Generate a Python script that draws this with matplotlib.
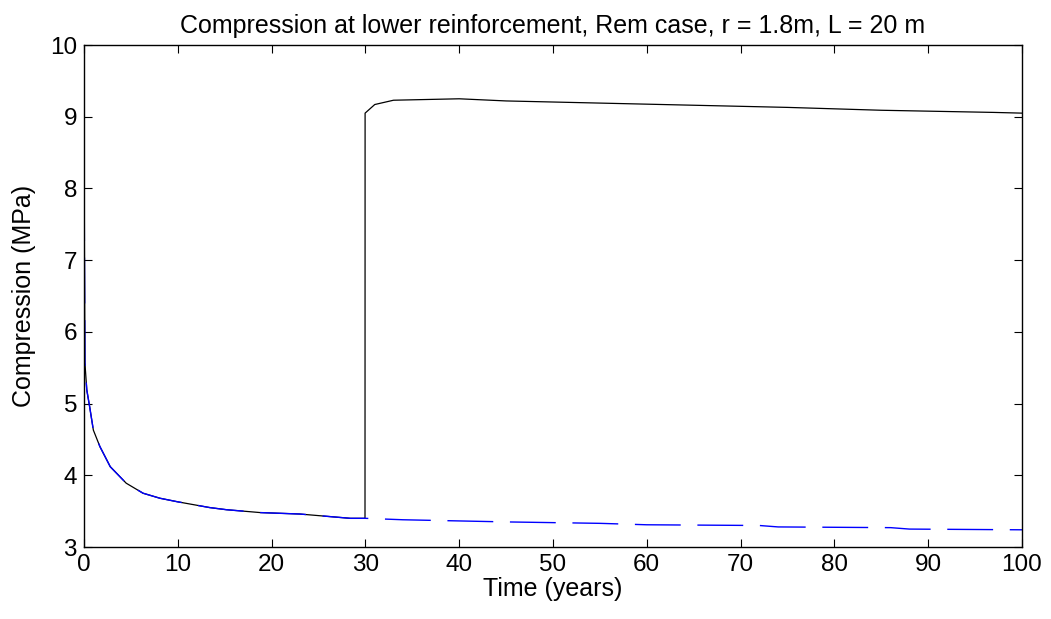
import matplotlib
matplotlib.use("Agg")
import matplotlib.pyplot as plt

plt.rcParams['font.family'] = ['Liberation Sans', 'DejaVu Sans']

# Data
t_black = [0, 0.02, 0.1, 0.3, 0.6, 1.0, 1.7, 2.8, 4.5, 6.3, 8.1, 10.0, 11.7, 13.4,
           15.2, 18.8, 23.0, 28.4, 29.96, 29.97, 31.0, 32.0, 33.0, 40.0, 45.0,
           55.0, 65.0, 75.0, 85.0, 97.0, 100.0]
c_black = [9.65, 8.0, 5.57, 5.19, 4.96, 4.63, 4.40, 4.12, 3.89, 3.75, 3.68, 3.63,
           3.59, 3.55, 3.52, 3.48, 3.46, 3.40, 3.40, 9.05, 9.17, 9.20, 9.23, 9.25,
           9.22, 9.19, 9.16, 9.13, 9.09, 9.06, 9.05]

t_blue = [0, 0.02, 0.1, 0.3, 0.6, 1.0, 1.7, 2.8, 4.5, 6.3, 8.1, 10.0, 11.7, 13.4,
          15.2, 18.8, 23.0, 28.4, 30.0, 34.0, 45.0, 55.0, 60.0, 72.0, 74.0, 86.0,
          88.0, 100.0]
c_blue = [9.65, 8.0, 5.57, 5.19, 4.96, 4.63, 4.40, 4.12, 3.89, 3.75, 3.68, 3.63,
          3.59, 3.55, 3.52, 3.48, 3.46, 3.40, 3.40, 3.38, 3.35, 3.33, 3.31, 3.30,
          3.28, 3.27, 3.25, 3.24]

xticks = [0, 10, 20, 30, 40, 50, 60, 70, 80, 90, 100]
yticks = [3, 4, 5, 6, 7, 8, 9, 10]

fig = plt.figure(figsize=(10.51, 6.19), dpi=100)
ax = fig.add_axes([0.0799, 0.1163, 0.8925, 0.811])

ax.plot(t_black, c_black, color='black', lw=0.9)
ax.plot(t_blue, c_blue, color='blue', lw=1.0, dashes=(33, 12))

ax.set_xlim(0, 100)
ax.set_ylim(3, 10)
ax.set_xticks(xticks)
ax.set_yticks(yticks)
ax.tick_params(direction='in', top=True, right=True, length=6, width=0.8,
               labelsize=17.5, pad=5)
for s in ax.spines.values():
    s.set_linewidth(1.0)

ax.set_title('Compression at lower reinforcement, Rem case, r = 1.8m, L = 20 m',
             fontsize=18, pad=9)
ax.set_xlabel('Time (years)', fontsize=18, labelpad=1)
ax.set_ylabel('Compression (MPa)', fontsize=18, labelpad=10)

fig.savefig('out.png', dpi=100)
